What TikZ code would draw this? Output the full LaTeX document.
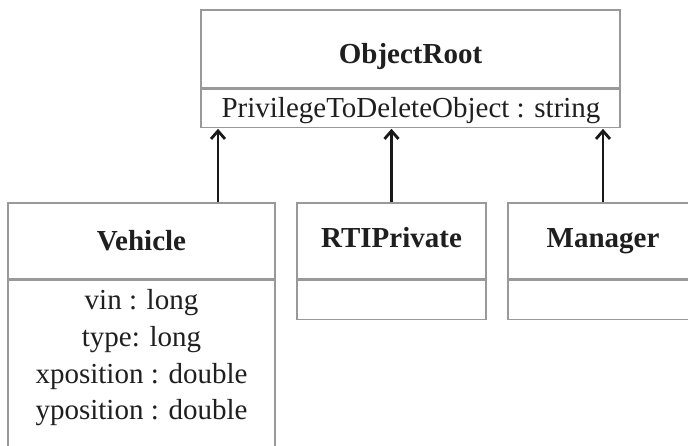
\documentclass[tikz,border=0pt]{standalone}
\usepackage{fontspec}
\setmainfont{Liberation Serif}
\usetikzlibrary{arrows.meta}

\tikzset{
  compart/.style={draw=black!40, line width=1.2pt, fill=white, inner sep=0pt},
  txt/.style={inner sep=0pt, anchor=base, text=black!88,
    font=\fontsize{29}{36.7}\selectfont},
  nametxt/.style={txt, font=\fontsize{29}{36.7}\selectfont\bfseries},
  attrtext/.style={inner sep=0pt, align=center, text=black!88,
    font=\fontsize{29}{36.7}\selectfont},
  inherit/.style={line width=2.9pt, black!90,
    -{Straight Barb[length=8pt, width=14pt, line width=2.8pt]}}
}

\begin{document}
\begin{tikzpicture}[x=1pt, y=-1pt]
  \useasboundingbox (0,0) rectangle (688,446);
  \clip (0,0) rectangle (688,446);

  % base class
  \node[compart, minimum width=419pt, minimum height=78pt] (rootname) at (410.5,49) {};
  \node[compart, minimum width=419pt, minimum height=38pt, anchor=north] (rootattr) at (rootname.south) {};
  \node[nametxt] (rootlabel) at (410.5,64) {ObjectRoot};
  \node[txt] (rootfield) at (411,118) {PrivilegeToDeleteObject : string};

  % Vehicle
  \node[compart, minimum width=267pt, minimum height=76pt] (vname) at (141.5,241) {};
  \node[compart, minimum width=267pt, minimum height=190pt, anchor=north] (vattr) at (vname.south) {};
  \node[nametxt] (vlabel) at (141.5,251) {Vehicle};
  \node[attrtext] (vtext) at (141.5,358) {vin : long\\type: long\\xposition : double\\yposition : double};

  % RTIPrivate
  \node[compart, minimum width=189pt, minimum height=76pt] (rname) at (391.5,241) {};
  \node[compart, minimum width=189pt, minimum height=39pt, anchor=north] (rattr) at (rname.south) {};
  \node[nametxt] (rlabel) at (391.5,248) {RTIPrivate};

  % Manager
  \node[compart, minimum width=190pt, minimum height=76pt] (mname) at (603,241) {};
  \node[compart, minimum width=190pt, minimum height=39pt, anchor=north] (mattr) at (mname.south) {};
  \node[nametxt] (mlabel) at (603,248) {Manager};

  % generalisation arrows
  \coordinate (vtop) at ([xshift=76.5pt]vname.north);
  \draw[inherit] (vtop) -- ([yshift=-1pt]vtop |- rootattr.south);
  \draw[inherit] (rname.north) -- ([yshift=-1pt]rname.north |- rootattr.south);
  \draw[inherit] (mname.north) -- ([yshift=-1pt]mname.north |- rootattr.south);
\end{tikzpicture}
\end{document}
